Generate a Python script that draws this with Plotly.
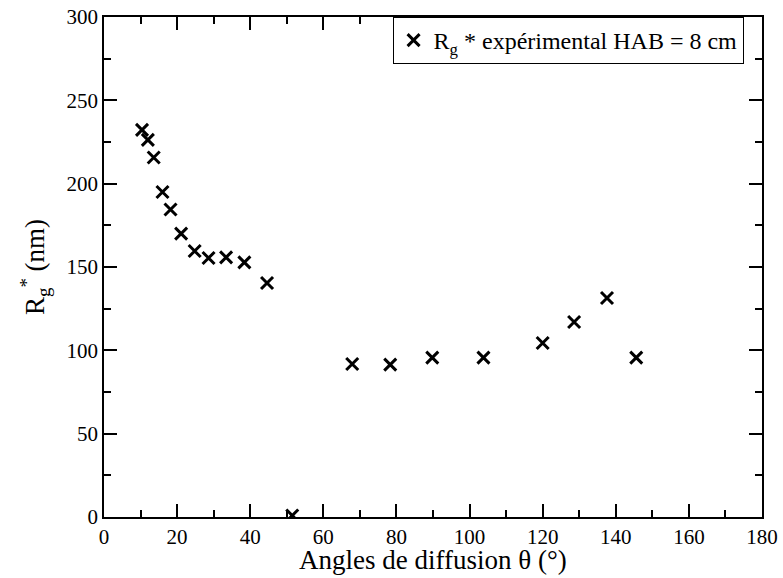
import plotly.graph_objects as go

angles = [10.4, 12.0, 13.6, 16.0, 18.2, 21.1, 24.8, 28.6, 33.4, 38.4, 44.6, 51.5,
          67.9, 78.3, 89.8, 103.8, 120.0, 128.6, 137.6, 145.6]
rg = [232.3, 226.3, 215.7, 195.0, 184.5, 170.0, 159.6, 155.4, 155.8, 152.8, 140.4, 0.9,
      91.8, 91.4, 95.6, 95.6, 104.4, 117.0, 131.4, 95.6]

series_name = "R<sub>g</sub> * expérimental HAB = 8 cm"
x_title = "Angles de diffusion θ (°)"
y_title = "R<sub>g</sub><sup>*</sup> (nm)"

FONT = "Liberation Serif"

fig = go.Figure()
fig.add_trace(go.Scatter(
    x=angles, y=rg, mode="markers", name=series_name,
    marker=dict(symbol="x-thin", size=12, color="black",
                line=dict(width=3, color="black")),
    showlegend=True,
))

axis_common = dict(
    showline=True, linecolor="black", linewidth=1.5, mirror="allticks",
    ticks="inside", tickcolor="black", tickwidth=1.5, ticklen=13,
    showgrid=False, zeroline=False, automargin=False,
    tickfont=dict(family=FONT, size=21, color="black"),
)

fig.update_xaxes(
    range=[0, 180], tick0=0, dtick=20,
    minor=dict(dtick=10, ticks="inside", ticklen=7, tickcolor="black", tickwidth=1.5),
    **axis_common,
)
fig.update_yaxes(
    range=[0, 300], tick0=0, dtick=50,
    minor=dict(dtick=25, ticks="inside", ticklen=7, tickcolor="black", tickwidth=1.5),
    title=dict(text=y_title, font=dict(family=FONT, size=27, color="black"), standoff=14),
    **axis_common,
)

# x-axis title placed as annotation to match the reference's tighter spacing
fig.add_annotation(
    text=x_title, xref="paper", yref="paper", x=0.5, y=-0.085,
    xanchor="center", yanchor="middle", showarrow=False,
    font=dict(family=FONT, size=27, color="black"),
)

fig.update_layout(
    width=783, height=578,
    margin=dict(l=104, r=21, t=17, b=61),
    paper_bgcolor="white", plot_bgcolor="white",
    font=dict(family=FONT, color="black"),
    legend=dict(
        x=0.972, xanchor="right", y=1.0, yanchor="top",
        bordercolor="black", borderwidth=1, bgcolor="white",
        font=dict(family=FONT, size=24, color="black"),
    ),
)

fig.write_html("out.html", config={"displayModeBar": False},
               post_script="document.body.style.margin='0';")
